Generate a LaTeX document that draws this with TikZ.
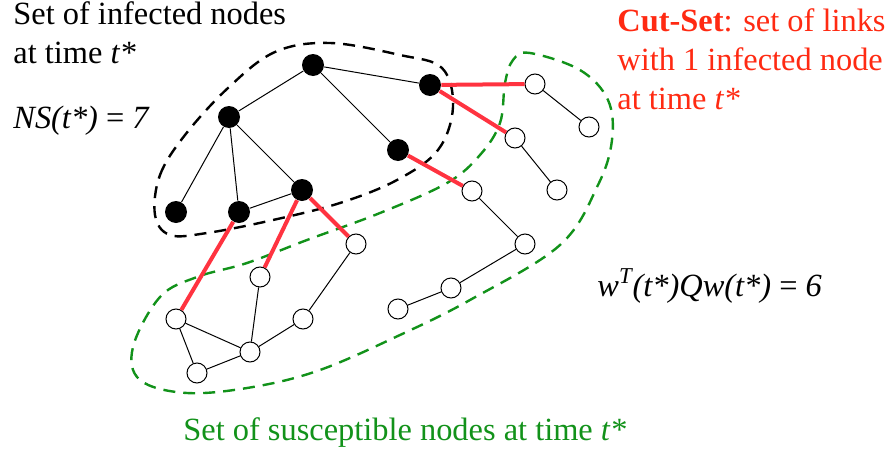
\documentclass[tikz,border=0pt]{standalone}
\usepackage{fontspec}
\setmainfont{Liberation Serif}
\usepackage{tikz}
\usetikzlibrary{positioning}
\definecolor{cutred}{HTML}{FF2A12}
\definecolor{linkred}{HTML}{FF3340}
\definecolor{susgreen}{HTML}{12921A}

\begin{document}
\begin{tikzpicture}[x=0.5pt,y=-0.5pt,
  inf/.style={circle,fill=black,inner sep=0pt,minimum size=11pt},
  sus/.style={circle,draw,fill=white,line width=0.5pt,inner sep=0pt,minimum size=10pt},
  link/.style={line width=0.5pt},
  cut/.style={line width=2pt,linkred},
  blob/.style={line width=1.2pt,dash pattern=on 6pt off 4pt},
  lbl/.style={font=\fontsize{16.2}{19.5}\selectfont,align=left,inner sep=0pt,anchor=base west}]
  \useasboundingbox (0,0) rectangle (891,450);
  % infected set
  \draw[blob] plot[smooth cycle,tension=0.6] coordinates {(155,215) (160,175) (185,135)
    (228,88) (275,52) (330,43) (400,55) (442,68) (453,107) (438,150) (397,180)
    (340,203) (273,220) (207,233) (170,235)};
  % susceptible set
  \draw[blob,susgreen] plot[smooth cycle,tension=0.6] coordinates {(530,53) (580,70)
    (608,100) (612,140) (598,185) (560,245) (470,300) (400,335) (320,370) (253,387)
    (187,393) (140,380) (133,347) (160,297) (197,277) (247,263) (307,240) (380,213)
    (447,183) (480,155) (500,123) (505,83) (513,60)};
  \node[inf] (top) at (313,65) {};
  \node[inf] (hub) at (430,85) {};
  \node[inf] (lft) at (229,117) {};
  \node[inf] (mid) at (398,150) {};
  \node[inf] (bl) at (176,212) {};
  \node[inf] (bm) at (239,212) {};
  \node[inf] (br) at (302,190) {};
  \node[sus] (s1) at (535,84) {};
  \node[sus] (s2) at (589,127) {};
  \node[sus] (s3) at (515,138) {};
  \node[sus] (s4) at (557,190) {};
  \node[sus] (s5) at (472,191) {};
  \node[sus] (s6) at (525,244) {};
  \node[sus] (s7) at (451,288) {};
  \node[sus] (s8) at (398,309) {};
  \node[sus] (s9) at (356,244) {};
  \node[sus] (s10) at (260,277) {};
  \node[sus] (s11) at (303,319) {};
  \node[sus] (s12) at (176,319) {};
  \node[sus] (s13) at (250,352) {};
  \node[sus] (s14) at (197,373) {};
  \draw[link] (top) -- (hub);
  \draw[link] (top) -- (lft);
  \draw[link] (top) -- (mid);
  \draw[link] (lft) -- (bl);
  \draw[link] (lft) -- (bm);
  \draw[link] (lft) -- (br);
  \draw[link] (bm) -- (br);
  \draw[link] (s1) -- (s2);
  \draw[link] (s3) -- (s4);
  \draw[link] (s5) -- (s6);
  \draw[link] (s6) -- (s7);
  \draw[link] (s7) -- (s8);
  \draw[link] (s9) -- (s11);
  \draw[link] (s11) -- (s13);
  \draw[link] (s10) -- (s13);
  \draw[link] (s12) -- (s13);
  \draw[link] (s12) -- (s14);
  \draw[link] (s14) -- (s13);
  % cut-set links
  \draw[cut] (hub) -- (s1);
  \draw[cut] (hub) -- (s3);
  \draw[cut] (mid) -- (s5);
  \draw[cut] (bm) -- (s12);
  \draw[cut] (br) -- (s10);
  \draw[cut] (br) -- (s9);
  % labels (anchored at the last baseline)
  \node[lbl] (inflbl) at (13,63) {Set of infected nodes\\at time \textit{t*}};
  \node[lbl] (ns) at (13,128) {\textit{NS(t*)} = \textit{7}};
  \node[lbl,text=cutred] (cutlbl) at (617,109)
    {\textbf{Cut-Set}: set of links\\with 1 infected node\\at time \textit{t*}};
  \node[lbl] (wq) at (597,296) {\textit{w\textsuperscript{T}(t*)Qw(t*)} = \textit{6}};
  \node[lbl,text=susgreen] (suslbl) at (183,440) {Set of susceptible nodes at time \textit{t*}};
\end{tikzpicture}
\end{document}
